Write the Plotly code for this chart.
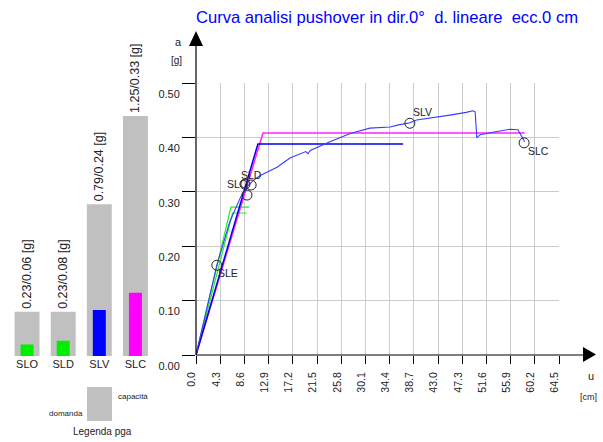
import plotly.graph_objects as go

W, H = 603, 442
FONT = "Liberation Sans, Arial, sans-serif"

# ---- pga bars (left) ----
limit_states = ["SLO", "SLD", "SLV", "SLC"]
pga_capacity = [0.23, 0.23, 0.79, 1.25]
pga_demand = [0.06, 0.08, 0.24, 0.33]
demand_colors = ["#00ee00", "#00ee00", "#0000ff", "#ff00ff"]

# ---- pushover curve ----
cap_x = [0, 3.7, 6.0, 8.0, 9.3, 10.3, 11.4, 14.4, 16.7, 19.5, 19.9, 20.3, 23.8, 27.4, 30.9,
         34.5, 36.0, 38.0, 39.2, 42.0, 45.1, 48.0, 49.2, 49.6, 49.8, 49.9, 50.5, 51.7, 53.0,
         55.8, 57.2, 58.4]
cap_y = [0, 0.165, 0.245, 0.292, 0.312, 0.322, 0.330, 0.345, 0.362, 0.374, 0.370, 0.376,
         0.392, 0.407, 0.417, 0.419, 0.423, 0.427, 0.432, 0.436, 0.441, 0.446, 0.449, 0.447,
         0.420, 0.399, 0.405, 0.408, 0.410, 0.415, 0.414, 0.392]

# bilinear equivalents
blue_bil_x = [0, 11.0, 36.8]
blue_bil_y = [0, 0.388, 0.388]
mag_bil_x = [0, 11.9, 58.4]
mag_bil_y = [0, 0.408, 0.408]
green1_x = [0, 6.2, 9.4]
green1_y = [0, 0.272, 0.272]
green2_x = [0, 6.5, 9.0]
green2_y = [0, 0.261, 0.261]

# limit state points
ls_names = ["SLE", "SLO", "SLD", "", "SLV", "SLC"]
ls_x = [3.7, 8.7, 9.8, 9.06, 38.0, 58.3]
ls_y = [0.165, 0.314, 0.3125, 0.294, 0.426, 0.390]
ls_shift = [(11, -8), (-7, 0), (0, 10), (0, 0), (13, 11), (14, -8)]

x_ticks = [0.0, 4.3, 8.6, 12.9, 17.2, 21.5, 25.8, 30.1, 34.4, 38.7, 43.0, 47.3, 51.6,
           55.9, 60.2, 64.5]
y_ticks = [0.0, 0.1, 0.2, 0.3, 0.4, 0.5]


def px(x):
    return x / W


def py(y):
    return 1 - y / H


fig = go.Figure()

# left bar chart
fig.add_trace(go.Bar(
    x=limit_states, y=pga_capacity, width=0.69, marker=dict(color="#c0c0c0", line=dict(width=0)),
    text=[f"{c:.2f}/{d:.2f} [g]" for c, d in zip(pga_capacity, pga_demand)],
    textposition="outside", textangle=-90, constraintext="none", cliponaxis=False,
    textfont=dict(family=FONT, size=12.5, color="#222222"),
    xaxis="x2", yaxis="y2", showlegend=False, hoverinfo="skip"))
fig.add_trace(go.Bar(
    x=limit_states, y=pga_demand, width=0.36, marker=dict(color=demand_colors, line=dict(width=0)),
    xaxis="x2", yaxis="y2", showlegend=False, hoverinfo="skip"))

# pushover
fig.add_trace(go.Scatter(x=green1_x, y=green1_y, mode="lines", line=dict(color="#22ee22", width=1.2),
                         showlegend=False))
fig.add_trace(go.Scatter(x=green2_x, y=green2_y, mode="lines", line=dict(color="#22ee22", width=1.2),
                         showlegend=False))
fig.add_trace(go.Scatter(x=mag_bil_x, y=mag_bil_y, mode="lines", line=dict(color="#ff22ff", width=1.5),
                         showlegend=False))
fig.add_trace(go.Scatter(x=blue_bil_x, y=blue_bil_y, mode="lines", line=dict(color="#0000ee", width=1.5),
                         showlegend=False))
fig.add_trace(go.Scatter(x=cap_x, y=cap_y, mode="lines", line=dict(color="#3a3aff", width=1.1),
                         showlegend=False))
fig.add_trace(go.Scatter(x=ls_x, y=ls_y, mode="markers",
                         marker=dict(symbol="circle-open", size=10, color="#222222", line=dict(width=1)),
                         showlegend=False, cliponaxis=False))

for name, x, y, (dx, dy) in zip(ls_names, ls_x, ls_y, ls_shift):
    if name:
        fig.add_annotation(x=x, y=y, text=name, showarrow=False, xshift=dx, yshift=dy,
                           font=dict(family=FONT, size=10.5, color="#222222"))

# axis lines with arrows
shapes = [
    dict(type="line", xref="paper", yref="paper", x0=px(196), y0=py(355), x1=px(584), y1=py(355),
         line=dict(color="black", width=1.2)),
    dict(type="line", xref="paper", yref="paper", x0=px(196), y0=py(355), x1=px(196), y1=py(45),
         line=dict(color="black", width=1.2)),
    dict(type="path", xref="paper", yref="paper", fillcolor="black", line=dict(width=0),
         path=f"M {px(583)},{py(347)} L {px(596)},{py(354.5)} L {px(583)},{py(362)} Z"),
    dict(type="path", xref="paper", yref="paper", fillcolor="black", line=dict(width=0),
         path=f"M {px(189)},{py(46)} L {px(196)},{py(31)} L {px(203)},{py(46)} Z"),
    # legend swatch
    dict(type="rect", xref="paper", yref="paper", x0=px(87), y0=py(421), x1=px(112), y1=py(387),
         fillcolor="#c0c0c0", line=dict(width=0)),
]

texts = [
    ("Curva analisi pushover in dir.0°\u00a0\u00a0d. lineare\u00a0\u00a0ecc.0 cm", 387, 18, 16.6, "#0000ff"),
    ("a", 178, 42, 11, "#222222"),
    ("[g]", 176, 61, 10, "#222222"),
    ("u", 591, 376, 11, "#222222"),
    ("[cm]", 588, 397, 9, "#222222"),
    ("capacità", 133, 396, 8, "#222222"),
    ("domanda", 66, 413, 8, "#222222"),
    ("Legenda pga", 102, 431, 10, "#222222"),
]
for t, x, y, s, c in texts:
    fig.add_annotation(xref="paper", yref="paper", x=px(x), y=py(y), text=t, showarrow=False,
                       xanchor="center", yanchor="middle", font=dict(family=FONT, size=s, color=c))

fig.update_layout(
    width=W, height=H,
    margin=dict(l=0, r=0, t=0, b=0, autoexpand=False),
    paper_bgcolor="white", plot_bgcolor="white",
    barmode="overlay",
    shapes=shapes,
    font=dict(family=FONT, size=11, color="#222222"),
    xaxis=dict(domain=[px(196), px(559)], range=[0, 64.5], tickvals=x_ticks,
               ticktext=[f"{v:.1f}" for v in x_ticks], tickangle=-90, automargin=False,
               ticks="outside", ticklen=8, tickcolor="black", tickwidth=1.2,
               showgrid=True, gridcolor="#cccccc", gridwidth=1, zeroline=False, showline=False,
               tickfont=dict(family=FONT, size=10.5, color="#222222"), ticklabelshift=-4,
               ticklabelstandoff=4),
    yaxis=dict(domain=[py(355), py(83)], range=[0, 0.5], tickvals=y_ticks, tickformat=".2f",
               ticks="outside", ticklen=13, tickcolor="black", tickwidth=1.2, automargin=False,
               showgrid=True, gridcolor="#cccccc", gridwidth=1, zeroline=False, showline=False,
               tickfont=dict(family=FONT, size=11, color="#222222"), ticklabelshift=11,
               ticklabelstandoff=0),
    xaxis2=dict(domain=[px(9), px(153.5)], range=[-0.5, 3.5], type="category", anchor="y2",
                showgrid=False, zeroline=False, showline=False, ticks="", automargin=False,
                tickfont=dict(family=FONT, size=11, color="#222222")),
    yaxis2=dict(domain=[py(356), py(106.4)], range=[0, 1.3], anchor="x2", visible=False,
                automargin=False),
)

fig.write_html("out.html", config={"displayModeBar": False},
               post_script="document.body.style.margin='0';")
